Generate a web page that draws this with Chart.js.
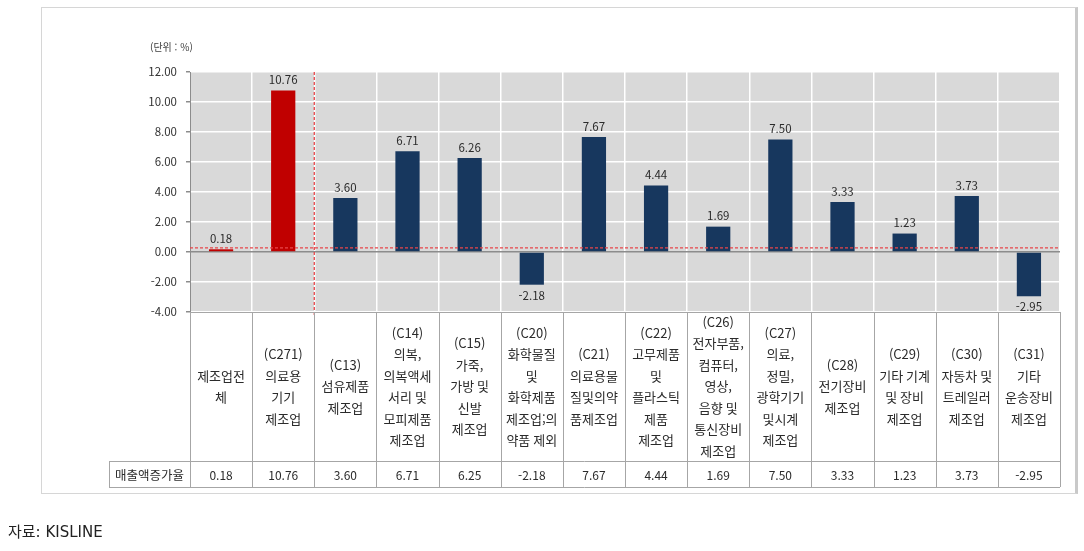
<!DOCTYPE html>
<html lang="ko">
<head>
<meta charset="utf-8">
<script src="https://cdn.jsdelivr.net/npm/chart.js@4.4.1/dist/chart.umd.min.js"></script>
<style>
  html,body{margin:0;padding:0;background:#fff;}
  body{width:1084px;height:551px;position:relative;overflow:hidden;font-family:"Noto Sans CJK KR",sans-serif;}
  #frame{position:absolute;left:41px;top:7px;width:1033px;height:485px;border:1px solid #d6d6d6;border-right:3px solid #c9c9c9;}
  #chart{position:absolute;left:0;top:0;}
  .unit{position:absolute;left:150px;top:39px;font-size:10px;color:#404040;}
  .src{position:absolute;left:8px;top:520px;font-size:15px;color:#222;font-family:"DejaVu Sans","Noto Sans CJK KR",sans-serif;}
</style>
</head>
<body>
<div id="frame"></div>
<canvas id="chart" width="1084" height="551"></canvas>
<div class="unit">(단위 : %)</div>
<div class="src">자료: KISLINE</div>
<script>
const categories = [
  ['제조업전','체'],
  ['(C271)','의료용','기기','제조업'],
  ['(C13)','섬유제품','제조업'],
  ['(C14)','의복,','의복액세','서리 및','모피제품','제조업'],
  ['(C15)','가죽,','가방 및','신발','제조업'],
  ['(C20)','화학물질','및','화학제품','제조업;의','약품 제외'],
  ['(C21)','의료용물','질및의약','품제조업'],
  ['(C22)','고무제품','및','플라스틱','제품','제조업'],
  ['(C26)','전자부품,','컴퓨터,','영상,','음향 및','통신장비','제조업'],
  ['(C27)','의료,','정밀,','광학기기','및시계','제조업'],
  ['(C28)','전기장비','제조업'],
  ['(C29)','기타 기계','및 장비','제조업'],
  ['(C30)','자동차 및','트레일러','제조업'],
  ['(C31)','기타','운송장비','제조업']
];
const salesGrowth = [0.18, 10.76, 3.60, 6.71, 6.26, -2.18, 7.67, 4.44, 1.69, 7.50, 3.33, 1.23, 3.73, -2.95];
const tableValues = ['0.18','10.76','3.60','6.71','6.25','-2.18','7.67','4.44','1.69','7.50','3.33','1.23','3.73','-2.95'];
const rowLabel = '매출액증가율';
const highlighted = [0, 1];
const referenceLine = 0.18;
const yTicks = [-4, -2, 0, 2, 4, 6, 8, 10, 12];

const RED = '#c00000', NAVY = '#17375e', LINE = '#a6a6a6';
const FONT = '"Noto Sans CJK KR", "Noto Sans", sans-serif';

const bgPlugin = {
  id:'bg',
  beforeDraw(chart){
    const {ctx, chartArea:a} = chart;
    ctx.save();
    ctx.fillStyle = '#d9d9d9';
    ctx.fillRect(a.left, a.top, a.right-a.left, a.bottom-a.top);
    ctx.restore();
  }
};

const labelPlugin = {
  id:'labels',
  afterDatasetsDraw(chart){
    const {ctx} = chart;
    const meta = chart.getDatasetMeta(0);
    ctx.save();
    ctx.font = '11.5px ' + FONT;
    ctx.fillStyle = '#2b2b2b';
    ctx.textAlign = 'center';
    meta.data.forEach((bar, i) => {
      const v = salesGrowth[i];
      if(v >= 0){ ctx.textBaseline = 'bottom'; ctx.fillText(v.toFixed(2), bar.x, bar.y - 5); }
      else { ctx.textBaseline = 'top'; ctx.fillText(v.toFixed(2), bar.x, bar.y + 5); }
    });
    // 빨간 점선
    const x = chart.scales.x, y = chart.scales.y, a = chart.chartArea;
    ctx.strokeStyle = '#e8464a';
    ctx.lineWidth = 1.3;
    ctx.setLineDash([3,2]);
    const ry = y.getPixelForValue(referenceLine) - 1.5;
    ctx.beginPath(); ctx.moveTo(a.left, ry); ctx.lineTo(a.right, ry); ctx.stroke();
    const vx = (x.getPixelForValue(1) + x.getPixelForValue(2)) / 2;
    ctx.beginPath(); ctx.moveTo(vx, a.top); ctx.lineTo(vx, a.bottom + 5); ctx.stroke();
    ctx.restore();
  }
};

const tablePlugin = {
  id:'table',
  afterDraw(chart){
    const {ctx, chartArea:a} = chart;
    const x = chart.scales.x;
    const cw = x.getPixelForValue(1) - x.getPixelForValue(0);
    const top = a.bottom, rowTop = 461, bottom = 487, labelLeft = 109;
    ctx.save();
    ctx.strokeStyle = LINE;
    ctx.lineWidth = 1;
    ctx.beginPath();
    ctx.moveTo(a.left, top + 0.5); ctx.lineTo(a.right, top + 0.5);
    ctx.moveTo(labelLeft, rowTop + 0.5); ctx.lineTo(a.right, rowTop + 0.5);
    ctx.moveTo(labelLeft, bottom + 0.5); ctx.lineTo(a.right, bottom + 0.5);
    ctx.moveTo(labelLeft + 0.5, rowTop); ctx.lineTo(labelLeft + 0.5, bottom);
    for(let i = 0; i <= categories.length; i++){
      const bx = Math.round(x.getPixelForValue(i) - cw/2) + 0.5;
      ctx.moveTo(bx, top); ctx.lineTo(bx, bottom);
    }
    ctx.stroke();

    ctx.fillStyle = '#2b2b2b';
    ctx.textAlign = 'center';
    ctx.textBaseline = 'middle';
    ctx.font = '13px ' + FONT;
    const lh = 21.5, mid = (top + rowTop) / 2;
    categories.forEach((lines, i) => {
      const cx = x.getPixelForValue(i);
      const y0 = mid - (lines.length - 1) * lh / 2;
      lines.forEach((t, k) => ctx.fillText(t, cx, y0 + k * lh));
    });
    ctx.font = '12px ' + FONT;
    const vy = (rowTop + bottom) / 2 + 1;
    tableValues.forEach((t, i) => ctx.fillText(t, x.getPixelForValue(i), vy));
    ctx.font = '12.5px ' + FONT;
    ctx.fillText(rowLabel, (labelLeft + a.left) / 2, vy);
    ctx.restore();
  }
};

new Chart(document.getElementById('chart'), {
  type:'bar',
  data:{
    labels: categories.map(c => c.join(' ')),
    datasets:[{
      data: salesGrowth,
      backgroundColor: salesGrowth.map((v, i) => highlighted.includes(i) ? RED : NAVY),
      categoryPercentage: 1,
      barPercentage: 0.39
    }]
  },
  options:{
    responsive:false,
    animation:false,
    devicePixelRatio:1,
    layout:{padding:{top:72, right:24, left:0, bottom:0}},
    plugins:{legend:{display:false}, tooltip:{enabled:false}},
    scales:{
      x:{
        offset:true,
        ticks:{display:false},
        grid:{offset:true, color:'#ffffff', lineWidth:1.5, drawTicks:false},
        border:{display:false},
        afterFit(s){ s.height = 239; }
      },
      y:{
        min:-4, max:12,
        afterBuildTicks(s){ s.ticks = yTicks.map(v => ({value:v})); },
        ticks:{
          padding:9,
          color:'#333333',
          font:{family:FONT, size:11.5},
          callback:v => Number(v).toFixed(2)
        },
        grid:{
          color:c => c.tick && c.tick.value === 0 ? '#8c8c8c' : '#ffffff',
          lineWidth:1.5,
          tickLength:4,
          tickColor:'#8c8c8c'
        },
        border:{color:'#8c8c8c', width:1},
        afterFit(s){ s.width = 190; }
      }
    }
  },
  plugins:[bgPlugin, labelPlugin, tablePlugin]
});
</script>
</body>
</html>
